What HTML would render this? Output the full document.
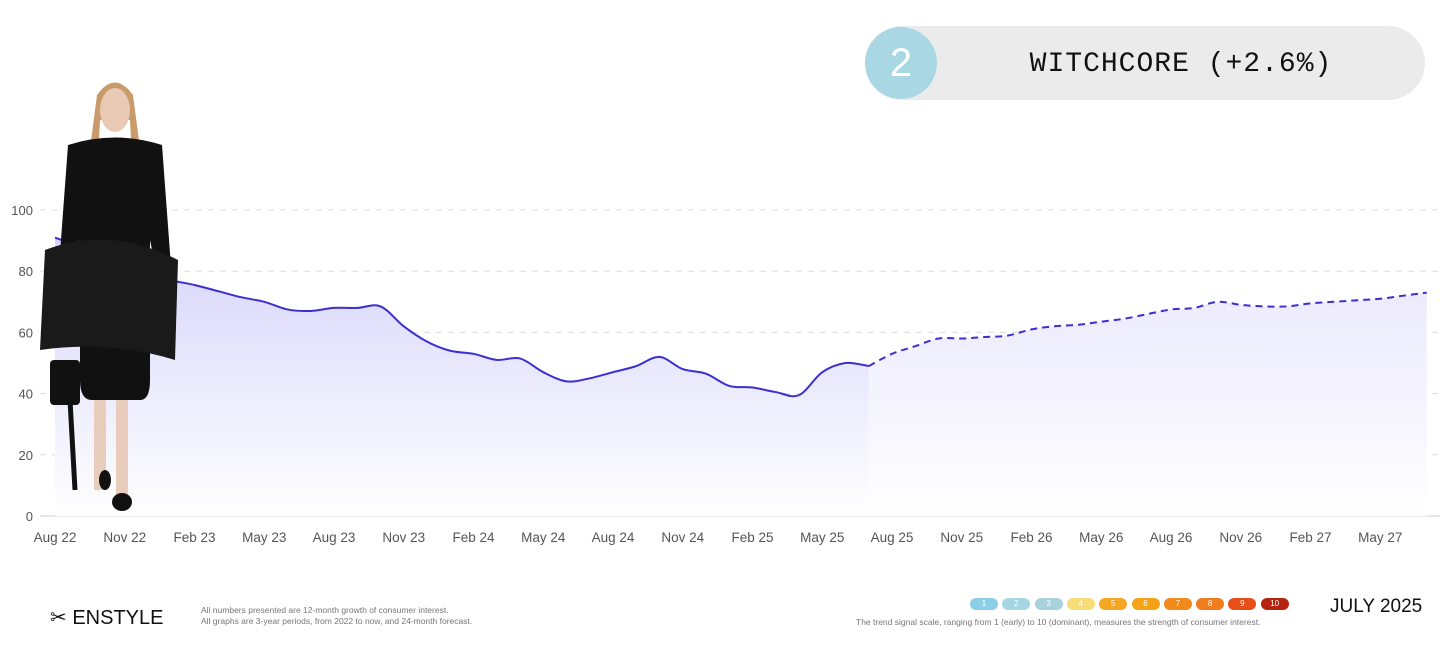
<!DOCTYPE html>
<html><head><meta charset="utf-8"><style>
body{margin:0;width:1456px;height:661px;background:#fff;overflow:hidden;font-family:"Liberation Sans",sans-serif;position:relative}
#badge{position:absolute;left:865px;top:26px;width:560px;height:74px;border-radius:37px;background:#ebebeb}
#badge .num{position:absolute;left:0;top:1px;width:72px;height:72px;border-radius:50%;background:#a9d8e4;color:#fff;font-size:40px;text-align:center;line-height:72px}
#badge .t{position:absolute;left:72px;right:0;top:2px;line-height:74px;text-align:center;font-family:"Liberation Mono",monospace;font-size:28px;letter-spacing:1px;color:#111}
.foot{position:absolute;color:#777;font-size:8.5px;line-height:11px}
.scale{position:absolute;top:598px;height:12px;width:28px;border-radius:6px;color:#fff;font-size:8px;text-align:center;line-height:12px}
</style></head><body>
<svg id="chart" width="1456" height="580" style="position:absolute;left:0;top:0">
<defs>
<linearGradient id="g1" x1="0" y1="0" x2="0" y2="1"><stop offset="0" stop-color="#d6d4fa"/><stop offset="1" stop-color="#ffffff"/></linearGradient>
<linearGradient id="g2" x1="0" y1="0" x2="0" y2="1"><stop offset="0" stop-color="#eceafd"/><stop offset="1" stop-color="#ffffff"/></linearGradient>
</defs>
<g id="grid"></g><g id="areas"></g><g id="lines"></g><g id="xl"></g>
<g>
<path d="M97 95 Q115 70 133 95 L148 210 L135 215 L130 120 L100 120 L95 215 L82 210 Z" fill="#c99a6a"/>
<ellipse cx="115" cy="110" rx="15" ry="22" fill="#e9c9b4"/>
<path d="M68 145 Q115 130 162 145 L172 280 L160 290 L150 240 L150 380 Q150 400 140 400 L92 400 Q80 400 80 380 L80 240 L70 290 L58 280 Z" fill="#111"/>
<path d="M45 250 Q110 225 178 260 L175 360 Q110 340 40 350 Z" fill="#1a1a1a"/>
<rect x="94" y="400" width="12" height="90" fill="#e8cdbd"/><rect x="116" y="400" width="12" height="95" fill="#e8cdbd"/>
<ellipse cx="105" cy="480" rx="6" ry="10" fill="#111"/><ellipse cx="122" cy="502" rx="10" ry="9" fill="#111"/>
<rect x="50" y="360" width="30" height="45" rx="4" fill="#111"/>
<path d="M70 400 L75 490" stroke="#111" stroke-width="5"/>
</g>
</svg>
<div id="badge"><div class="num">2</div><div class="t">WITCHCORE (+2.6%)</div></div>
<div style="position:absolute;left:50px;top:605px;font-size:20px;color:#111">✂ ENSTYLE</div>
<div class="foot" style="left:201px;top:605px">All numbers presented are 12-month growth of consumer interest.<br>All graphs are 3-year periods, from 2022 to now, and 24-month forecast.</div>
<div id="scales"></div>
<div class="foot" style="left:856px;top:617px">The trend signal scale, ranging from 1 (early) to 10 (dominant), measures the strength of consumer interest.</div>
<div style="position:absolute;left:1330px;top:596px;font-size:19px;color:#111">JULY 2025</div>
<script>
const actual=[91,88,84,81,79,77,75.5,73.5,71.5,70,67.5,67,68,68,68.5,62,57,54,53,51,51.5,47,44,45,47,49,52,48,46.5,42.5,42,40.5,39.5,47,50,49];
const forecast=[49,53,55.5,58,58,58.5,59,61,62,62.5,63.5,64.5,66,67.5,68,70,69,68.5,68.5,69.5,70,70.5,71,72,73];
const forecastStart=35;
const yTicks=[0,20,40,60,80,100];
const xLabels=["Aug 22","Nov 22","Feb 23","May 23","Aug 23","Nov 23","Feb 24","May 24","Aug 24","Nov 24","Feb 25","May 25","Aug 25","Nov 25","Feb 26","May 26","Aug 26","Nov 26","Feb 27","May 27"];
const scaleColors=["#8ecfe8","#a7d6e3","#a9d2dc","#f7dc7a","#f5a623","#f5a316","#f28a1b","#f07c1e","#e84e17","#b52410"];
const X=m=>55+m*23.25, Y=v=>516-v*3.06;
const NS="http://www.w3.org/2000/svg";
function mk(p,t,a){const e=document.createElementNS(NS,t);for(const k in a)e.setAttribute(k,a[k]);p.appendChild(e);return e;}
const grid=document.getElementById('grid');
yTicks.forEach(v=>{
 const l=mk(grid,'line',{x1:40,x2:1440,y1:Y(v),y2:Y(v),stroke:v?'#ddd':'#ccc','stroke-dasharray':v?'6 6':'none'});
 
 
 const t=mk(grid,'text',{x:33,y:Y(v)+5,'text-anchor':'end','font-size':13,fill:'#555'});t.textContent=v;
 
 
});
const xl=document.getElementById('xl');
xLabels.forEach((s,i)=>{const t=mk(xl,'text',{x:X(i*3),y:542,'text-anchor':'middle','font-size':13.5,fill:'#555'});t.textContent=s;
 
 });
function pts(arr,off){return arr.map((v,i)=>[X(i+off),Y(v)]);}
function smooth(p){let d='M'+p[0][0]+' '+p[0][1];for(let i=0;i<p.length-1;i++){const p0=p[Math.max(i-1,0)],p1=p[i],p2=p[i+1],p3=p[Math.min(i+2,p.length-1)];
 const c1=[p1[0]+(p2[0]-p0[0])/6,p1[1]+(p2[1]-p0[1])/6],c2=[p2[0]-(p3[0]-p1[0])/6,p2[1]-(p3[1]-p1[1])/6];
 d+=` C${c1[0]} ${c1[1]} ${c2[0]} ${c2[1]} ${p2[0]} ${p2[1]}`;}return d;}
const pa=pts(actual,0),pf=pts(forecast,forecastStart);
const areas=document.getElementById('areas'),lines=document.getElementById('lines');
let a1=mk(areas,'path',{d:smooth(pa)+` L${X(actual.length-1)} ${Y(0)} L${X(0)} ${Y(0)} Z`,fill:'url(#g1)'});


let a2=mk(areas,'path',{d:smooth(pf)+` L${X(forecastStart+forecast.length-1)} ${Y(0)} L${X(forecastStart)} ${Y(0)} Z`,fill:'url(#g2)'});


let l1=mk(lines,'path',{d:smooth(pa),fill:'none',stroke:'#3b2fd0','stroke-width':2});


let l2=mk(lines,'path',{d:smooth(pf),fill:'none',stroke:'#3b2fd0','stroke-width':2,'stroke-dasharray':'7 5'});


const sc=document.getElementById('scales');
scaleColors.forEach((c,i)=>{const d=document.createElement('div');d.className='scale';d.style.left=(970+i*32.3)+'px';d.style.background=c;d.textContent=i+1;
 
 
 sc.appendChild(d);});
</script>
</body></html>
